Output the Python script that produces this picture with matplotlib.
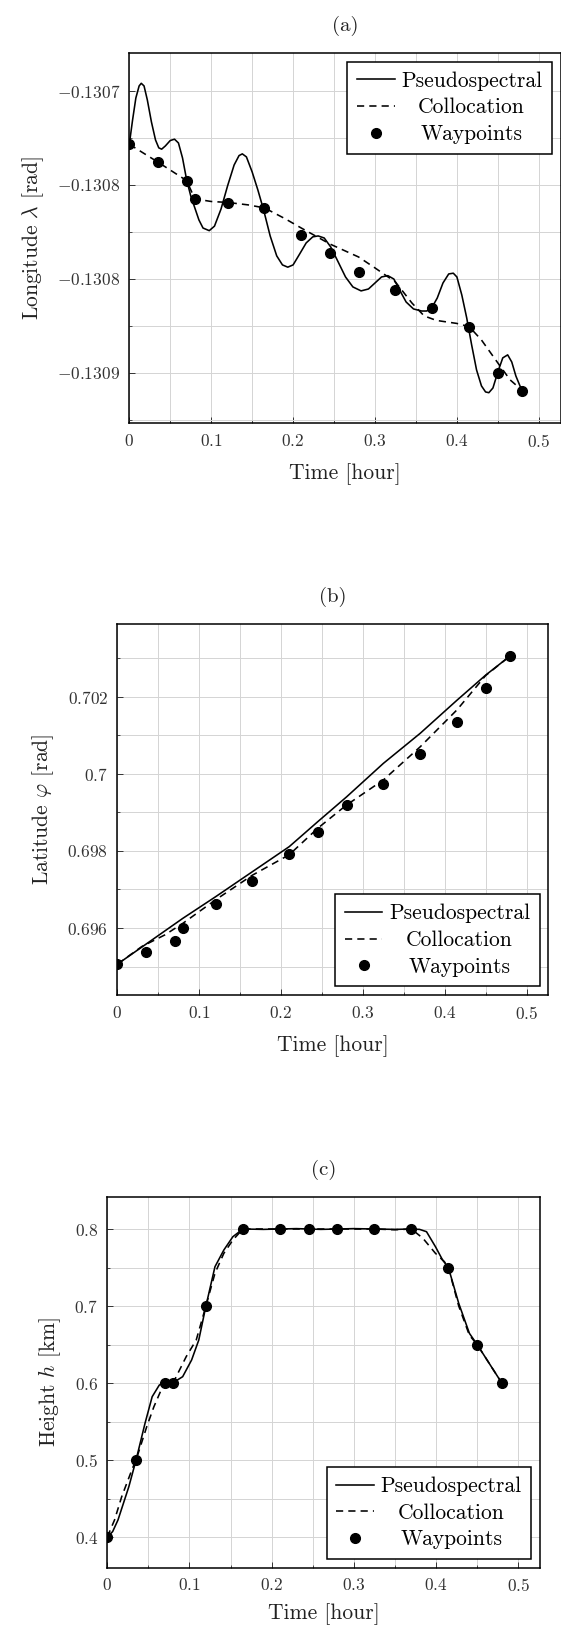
import matplotlib
matplotlib.use("Agg")
import matplotlib.pyplot as plt
from matplotlib.ticker import MultipleLocator, FixedLocator, FixedFormatter

plt.rcParams['font.family'] = 'cmr10'
plt.rcParams['mathtext.fontset'] = 'cm'
plt.rcParams['axes.unicode_minus'] = False

# ---------------- data ----------------
t_wp = [0, 0.035, 0.07, 0.08, 0.12, 0.165, 0.21, 0.245, 0.28, 0.325, 0.37, 0.415, 0.45, 0.48]

# (a) longitude
lon_wp = [-0.1307285, -0.1307380, -0.1307478, -0.1307575, -0.1307597, -0.1307623, -0.1307768,
          -0.1307864, -0.1307963, -0.1308059, -0.1308156, -0.1308254, -0.1308498, -0.1308594]
t_ps_a = [0.000, 0.004, 0.008, 0.012, 0.0146, 0.018, 0.022, 0.027, 0.032, 0.036, 0.0395, 0.044, 0.050,
          0.0552, 0.060, 0.065, 0.070, 0.075, 0.080, 0.085, 0.090, 0.0976, 0.104, 0.112, 0.120, 0.128,
          0.134, 0.138, 0.143, 0.150, 0.157, 0.164, 0.172, 0.180, 0.187, 0.1935, 0.200, 0.208, 0.216,
          0.224, 0.2306, 0.238, 0.246, 0.255, 0.264, 0.273, 0.283, 0.292, 0.300, 0.308, 0.3157, 0.323,
          0.330, 0.338, 0.347, 0.357, 0.363, 0.369, 0.376, 0.383, 0.390, 0.3956, 0.400, 0.406, 0.412,
          0.418, 0.424, 0.430, 0.435, 0.439, 0.444, 0.450, 0.456, 0.462, 0.467, 0.472, 0.4794]
lon_ps = [-0.1307285, -0.1307156, -0.1307039, -0.1306975, -0.1306961, -0.1306975, -0.1307049,
          -0.1307166, -0.1307262, -0.1307304, -0.1307311, -0.1307294, -0.1307265, -0.1307258,
          -0.1307278, -0.1307358, -0.1307474, -0.1307559, -0.1307623, -0.1307687, -0.1307730,
          -0.1307744, -0.1307720, -0.1307629, -0.1307506, -0.1307395, -0.1307345, -0.1307336,
          -0.1307352, -0.1307432, -0.1307528, -0.1307634, -0.1307772, -0.1307878, -0.1307926,
          -0.1307938, -0.1307926, -0.1307868, -0.1307809, -0.1307777, -0.1307772, -0.1307783,
          -0.1307831, -0.1307910, -0.1307990, -0.1308043, -0.1308064, -0.1308054, -0.1308022,
          -0.1307990, -0.1307983, -0.1308001, -0.1308059, -0.1308123, -0.1308160, -0.1308171,
          -0.1308171, -0.1308156, -0.1308102, -0.1308022, -0.1307974, -0.1307970, -0.1307990,
          -0.1308086, -0.1308208, -0.1308351, -0.1308484, -0.1308569, -0.1308601, -0.1308605,
          -0.1308580, -0.1308495, -0.1308420, -0.1308404, -0.1308442, -0.1308516, -0.1308594]
t_col_a = [0, 0.035, 0.07, 0.08, 0.10, 0.12, 0.145, 0.165, 0.19, 0.21, 0.245, 0.28, 0.30, 0.325,
           0.345, 0.36, 0.375, 0.40, 0.415, 0.43, 0.45, 0.465, 0.48]
lon_col = [-0.1307285, -0.1307380, -0.1307478, -0.1307575, -0.1307589, -0.1307594, -0.1307607,
           -0.1307623, -0.1307680, -0.1307730, -0.1307815, -0.1307884, -0.1307942, -0.1308017,
           -0.1308128, -0.1308197, -0.1308221, -0.1308237, -0.1308254, -0.1308325, -0.1308447,
           -0.1308537, -0.1308594]
lon_ticks = [-0.13070, -0.13075, -0.13080, -0.13085]
lon_ticklabels = ['-0.1307', '-0.1308', '-0.1308', '-0.1309']

# (b) latitude
lat_wp = [0.69506, 0.69539, 0.69567, 0.69599, 0.69662, 0.69723, 0.69791, 0.69849, 0.69920,
          0.69973, 0.70051, 0.70134, 0.70222, 0.70306]
t_ps_b = [0, 0.035, 0.08, 0.12, 0.165, 0.21, 0.245, 0.28, 0.325, 0.37, 0.415, 0.45, 0.48]
lat_ps = [0.69506, 0.69558, 0.69625, 0.69681, 0.69746, 0.69811, 0.69876, 0.69940, 0.70027,
          0.70105, 0.70191, 0.70256, 0.70306]
t_col_b = [0, 0.03, 0.058, 0.08, 0.12, 0.165, 0.21, 0.245, 0.28, 0.325, 0.37, 0.415, 0.45, 0.48]
lat_col = [0.69506, 0.69552, 0.69582, 0.69612, 0.69673, 0.69737, 0.69790, 0.69859, 0.69919,
           0.69984, 0.70070, 0.70166, 0.70255, 0.70306]
lat_ticks = [0.696, 0.698, 0.700, 0.702]
lat_ticklabels = ['0.696', '0.698', '0.7', '0.702']

# (c) height
h_wp = [0.4, 0.5, 0.6, 0.6, 0.7, 0.8, 0.8, 0.8, 0.8, 0.8, 0.8, 0.75, 0.65, 0.6]
t_ps_c = [0, 0.0065, 0.013, 0.0262, 0.035, 0.0459, 0.0546, 0.0633, 0.07, 0.08, 0.0917, 0.1026,
          0.1113, 0.12, 0.131, 0.1418, 0.1528, 0.165, 0.19, 0.21, 0.23, 0.245, 0.26, 0.28, 0.30,
          0.325, 0.35, 0.37, 0.38, 0.3884, 0.3993, 0.408, 0.415, 0.4276, 0.4406, 0.45, 0.48]
h_ps = [0.4, 0.407, 0.4221, 0.4653, 0.5, 0.5477, 0.5822, 0.5974, 0.6, 0.6004, 0.6082, 0.6299,
        0.6558, 0.7, 0.751, 0.7727, 0.79, 0.8, 0.7995, 0.8, 0.8005, 0.8, 0.7995, 0.8, 0.8005,
        0.8, 0.7995, 0.8, 0.7995, 0.7965, 0.777, 0.7597, 0.75, 0.7035, 0.6645, 0.65, 0.6]
t_col_c = [0, 0.0088, 0.0175, 0.0306, 0.035, 0.048, 0.0567, 0.0655, 0.07, 0.08, 0.096, 0.1082,
           0.12, 0.131, 0.1418, 0.1528, 0.165, 0.21, 0.245, 0.28, 0.325, 0.35, 0.37, 0.384,
           0.3993, 0.4101, 0.415, 0.4276, 0.4406, 0.45, 0.48]
h_col = [0.4, 0.4221, 0.4523, 0.4892, 0.5, 0.5433, 0.5692, 0.5909, 0.6, 0.6, 0.6342, 0.6558,
         0.7, 0.7425, 0.7684, 0.7857, 0.8, 0.8, 0.8, 0.8, 0.8, 0.799, 0.8, 0.788, 0.7684,
         0.7576, 0.75, 0.70, 0.662, 0.65, 0.6]
h_ticks = [0.4, 0.5, 0.6, 0.7, 0.8]
h_ticklabels = ['0.4', '0.5', '0.6', '0.7', '0.8']

x_ticks = [0, 0.1, 0.2, 0.3, 0.4, 0.5]
x_ticklabels = ['0', '0.1', '0.2', '0.3', '0.4', '0.5']

legend_labels = ['Pseudospectral', 'Collocation', 'Waypoints']

# ---------------- figure ----------------
W, H = 561, 1625
fig = plt.figure(figsize=(W / 100, H / 100), dpi=100)

def px_axes(left, top, right, bottom):
    return fig.add_axes([left / W, 1 - bottom / H, (right - left) / W, (bottom - top) / H])

def m(labels):
    # unary minus wrapped in braces so mathtext does not space it as a binary operator
    return ['$' + s.replace('-', '{-}') + '$' for s in labels]

TICK_FS = 12.5
LAB_FS = 15.5
LEG_FS = 15.5

def style(ax, title, ylabel, yticks, yticklabels, yminor, ylim, legloc,
          t_ps, v_ps, t_col, v_col, v_wp, xlabelpad=10):
    l1, = ax.plot(t_ps, v_ps, color='black', lw=1.15, solid_joinstyle='round', zorder=3)
    l2, = ax.plot(t_col, v_col, color='black', lw=1.15, linestyle=(0, (4.5, 3.2)), zorder=3)
    l3, = ax.plot(t_wp, v_wp, linestyle='none', marker='o', ms=7, color='black', zorder=4)
    ax.set_xlim(0, 0.5265)
    ax.set_ylim(*ylim)
    ax.xaxis.set_major_locator(FixedLocator(x_ticks))
    ax.xaxis.set_major_formatter(FixedFormatter(m(x_ticklabels)))
    ax.xaxis.set_minor_locator(MultipleLocator(0.05))
    ax.yaxis.set_major_locator(FixedLocator(yticks))
    ax.yaxis.set_major_formatter(FixedFormatter(m(yticklabels)))
    ax.yaxis.set_minor_locator(MultipleLocator(yminor))
    ax.grid(True, which='both', color='#d4d4d4', lw=0.7)
    ax.set_axisbelow(True)
    ax.tick_params(which='both', direction='in', colors='#333333', labelcolor='#333333',
                   labelsize=TICK_FS, top=False, right=False)
    ax.tick_params(which='major', length=4, width=0.7)
    ax.tick_params(which='minor', length=2.5, width=0.6)
    ax.tick_params(axis='x', pad=7)
    ax.tick_params(axis='y', pad=6.5)
    for s in ax.spines.values():
        s.set_linewidth(1.1)
        s.set_color('black')
    ax.set_title(title, fontsize=15, pad=16, color='#222222')
    ax.set_xlabel('Time [hour]', fontsize=LAB_FS, labelpad=xlabelpad, color='#222222')
    ax.set_ylabel(ylabel, fontsize=LAB_FS, labelpad=8, color='#222222')
    leg = ax.legend([l1, l2, l3], legend_labels, loc=legloc, fontsize=LEG_FS,
                    frameon=True, fancybox=False, framealpha=1, edgecolor='black',
                    borderaxespad=0.4, borderpad=0.45, labelspacing=0.33,
                    handlelength=1.75, handletextpad=0.3, numpoints=1)
    leg.get_frame().set_linewidth(1.1)
    return leg

axa = px_axes(129.3, 53, 560.5, 423)
lega = style(axa, '(a)', r'Longitude $\lambda$ [rad]', lon_ticks, lon_ticklabels, 0.000025,
             (-0.1308766, -0.1306800), 'upper right', t_ps_a, lon_ps, t_col_a, lon_col, lon_wp)

axb = px_axes(117.3, 624, 548.3, 995)
legb = style(axb, '(b)', r'Latitude $\varphi$ [rad]', lat_ticks, lat_ticklabels, 0.001,
             (0.694262, 0.703886), 'lower right', t_ps_b, lat_ps, t_col_b, lat_col, lat_wp)

axc = px_axes(107.3, 1196.7, 540, 1567.7)
legc = style(axc, '(c)', r'Height $h$ [km]', h_ticks, h_ticklabels, 0.05,
             (0.36013, 0.84195), 'lower right', t_ps_c, h_ps, t_col_c, h_col, h_wp,
             xlabelpad=6)

# centre the legend texts within their column (pgfplots style)
fig.canvas.draw()
renderer = fig.canvas.get_renderer()
for leg in (lega, legb, legc):
    texts = leg.get_texts()
    widths = [t.get_window_extent(renderer).width for t in texts]
    wmax = max(widths)
    for t, w in zip(texts, widths):
        t.set_x((wmax - w) / 2)

fig.savefig('out.png', dpi=100)
